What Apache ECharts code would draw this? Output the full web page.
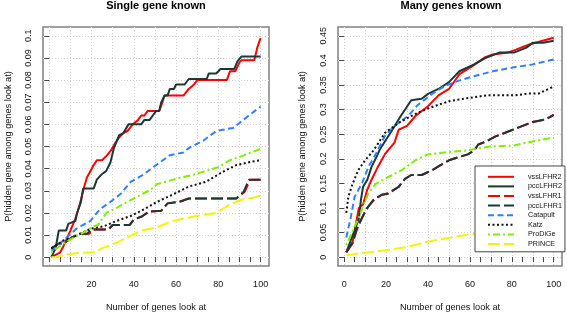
<!DOCTYPE html>
<html><head><meta charset="utf-8">
<script src="https://cdn.jsdelivr.net/npm/echarts@6/dist/echarts.min.js"></script>
<style>html,body{margin:0;padding:0;background:#fff}#c{width:567px;height:317px}</style>
</head><body><div id="c"></div>
<script>
// ---- labels ----
const seriesNames = ['vssLFHR2','pccLFHR2','vssLFHR1','pccLFHR1','Catapult','Katz','ProDiGe','PRINCE'];
const panelTitles = ['Single gene known','Many genes known'];
const xTitle = 'Number of genes look at';
const yTitle = 'P(hidden gene among genes look at)';
const xTickValues = [0,5,10,15,20,25,30,35,40,45,50,55,60,65,70,75,80,85,90,95,100];
const xGridValues = [0,10,20,30,40,50,60,70,80,90,100];
const xLabelsLeft = [20,40,60,80,100];
const xLabelsRight = [0,20,40,60,80,100];
const yTicksLeft = [0,0.01,0.02,0.03,0.04,0.05,0.06,0.07,0.08,0.09,0.1];
const yTicksRight = [0,0.05,0.1,0.15,0.2,0.25,0.3,0.35,0.4,0.45];

// ---- Single gene known: [genes looked at, probability] ----
const single_vssLFHR2 = [[1,0],[3,0.001],[5,0.002],[6.5,0.0045],[10,0.012],[12.5,0.0177],[14.5,0.024],[16.3,0.031],[17.8,0.036],[19,0.038],[21,0.0416],[22.5,0.0438],[25,0.0438],[27.3,0.046],[29,0.048],[31.5,0.052],[33,0.054],[35,0.056],[37,0.057],[39.5,0.06],[42,0.062],[43.5,0.064],[45,0.064],[46.5,0.066],[52,0.066],[53,0.0686],[54.5,0.073],[63.5,0.073],[66,0.076],[68.5,0.078],[70,0.08],[84,0.08],[85.5,0.084],[88,0.084],[90,0.088],[91,0.089],[97,0.089],[98.5,0.095],[100,0.099]];
const single_pccLFHR2 = [[1,0],[3,0.004],[4.5,0.012],[8,0.012],[9,0.015],[12.4,0.0164],[13,0.0195],[15,0.025],[16,0.031],[21,0.031],[22.5,0.035],[25,0.0376],[27,0.039],[29,0.043],[30.5,0.049],[33,0.055],[35,0.056],[37.5,0.06],[43.5,0.06],[45,0.062],[47.5,0.062],[49,0.064],[50.5,0.066],[52,0.066],[53,0.07],[54.5,0.073],[56,0.073],[57,0.076],[59,0.076],[60,0.078],[64,0.078],[66,0.0805],[74.5,0.0805],[75.5,0.083],[79,0.083],[81,0.085],[87.5,0.085],[89,0.0885],[91,0.0907],[100,0.0907]];
const single_vssLFHR1 = [[1,0.004],[4.3,0.006],[7.5,0.0066],[10,0.0084],[12.4,0.0097],[14.6,0.0106],[19,0.0106],[21,0.0125],[28,0.0125],[30,0.0145],[38,0.0145],[40,0.017],[44,0.0185],[47,0.0205],[53,0.021],[56,0.0243],[61.5,0.025],[66,0.0265],[88.5,0.0265],[92.5,0.0296],[95,0.035],[100,0.035]];
const single_pccLFHR1 = [[1,0.004],[4.3,0.006],[7.5,0.0066],[10,0.0084],[12.4,0.0097],[14.6,0.0106],[18,0.0106],[20,0.0125],[28,0.0125],[30,0.0145],[38,0.0145],[40,0.017],[44,0.0185],[47,0.0205],[53,0.021],[56,0.0243],[61.5,0.025],[66,0.0265],[88.5,0.0265],[92,0.0296],[94.5,0.035],[100,0.035]];
const single_Catapult = [[1,0.003],[3.3,0.0044],[6.6,0.0075],[12.8,0.0128],[19.5,0.0164],[24,0.0217],[29,0.025],[34,0.0288],[38.5,0.034],[45,0.0376],[50.5,0.0416],[57,0.046],[63.5,0.0473],[66.5,0.0496],[73,0.0527],[79,0.057],[87,0.0584],[90,0.0606],[94,0.0637],[100,0.068]];
const single_Katz = [[1,0.004],[6.6,0.0075],[12.8,0.0097],[19.5,0.0128],[26,0.014],[32,0.0164],[38.5,0.0186],[45,0.0217],[51,0.025],[58.5,0.0283],[66,0.0319],[74,0.034],[82,0.0385],[88.5,0.0416],[94.5,0.0429],[100,0.0438]];
const single_ProDiGe = [[1,0.002],[2,0.003],[6.6,0.006],[11.4,0.0088],[16,0.011],[21,0.014],[23,0.0145],[27,0.02],[31.4,0.022],[35,0.024],[39,0.026],[43.5,0.0283],[48,0.0305],[51,0.033],[60,0.0354],[69.5,0.0376],[80,0.0407],[85.5,0.0438],[92,0.046],[98,0.0482],[100,0.049]];
const single_PRINCE = [[1,0],[4.3,0],[6.6,0.001],[12.8,0.0018],[21,0.0022],[26,0.0044],[32,0.0066],[38.5,0.0097],[43.5,0.012],[51,0.0135],[58.5,0.0164],[69.5,0.0186],[79,0.02],[84,0.023],[90,0.0257],[97,0.027],[100,0.028]];

// ---- Many genes known ----
const many_vssLFHR2 = [[1,0.01],[4,0.03],[5,0.054],[7,0.1],[9,0.107],[11,0.137],[13,0.157],[16,0.183],[19.5,0.21],[24,0.233],[26,0.259],[30,0.267],[34,0.287],[40,0.307],[45,0.329],[50,0.342],[55,0.372],[61,0.388],[67,0.406],[71,0.412],[78,0.416],[82,0.422],[88,0.432],[93,0.438],[100,0.446]];
const many_pccLFHR2 = [[1,0.01],[4,0.044],[7,0.078],[8,0.117],[9,0.143],[11,0.157],[13,0.183],[16,0.209],[17,0.219],[23,0.259],[27,0.287],[32,0.319],[37,0.322],[40,0.332],[45,0.342],[50,0.356],[55,0.378],[62,0.392],[68,0.406],[74,0.416],[81,0.416],[87,0.426],[90,0.436],[95,0.436],[100,0.44]];
const many_vssLFHR1 = [[1,0.01],[4,0.028],[6,0.055],[8.5,0.08],[11,0.1],[14,0.115],[18,0.127],[21,0.13],[26,0.143],[29,0.159],[32,0.167],[37,0.167],[42,0.177],[46,0.187],[50,0.197],[55,0.204],[59,0.209],[62,0.217],[64,0.229],[67.6,0.235],[72,0.245],[78,0.255],[84,0.265],[90,0.275],[96,0.28],[100,0.29]];
const many_pccLFHR1 = [[1,0.01],[4,0.03],[6,0.058],[8.5,0.08],[11,0.1],[14,0.117],[18,0.127],[21,0.129],[26,0.143],[29,0.159],[32,0.167],[37,0.167],[42,0.177],[46,0.187],[50,0.197],[55,0.204],[59,0.209],[62,0.217],[64,0.229],[67.6,0.235],[72,0.245],[78,0.255],[84,0.265],[90,0.275],[96,0.28],[100,0.289]];
const many_Catapult = [[1,0.04],[3,0.078],[5,0.123],[8.5,0.15],[11.5,0.183],[16,0.217],[19.5,0.247],[24,0.267],[30.5,0.287],[35,0.309],[42,0.332],[48,0.348],[54,0.358],[62,0.368],[71,0.378],[81,0.386],[90,0.392],[100,0.402]];
const many_Katz = [[1,0.09],[2,0.123],[4,0.149],[6.7,0.177],[10,0.197],[14,0.217],[19.5,0.253],[26,0.273],[32,0.287],[37,0.297],[43,0.307],[50,0.317],[58.5,0.323],[68,0.329],[81,0.329],[89,0.333],[93,0.333],[100,0.347]];
const many_ProDiGe = [[1,0.024],[4.5,0.058],[7,0.08],[9,0.104],[11.5,0.129],[15,0.149],[21,0.163],[27.5,0.177],[34,0.197],[40,0.209],[48,0.213],[58.5,0.217],[69.5,0.225],[81,0.227],[87,0.233],[100,0.243]];
const many_PRINCE = [[1,0.004],[10,0.009],[19.5,0.014],[29,0.02],[38.5,0.03],[48,0.038],[59,0.046],[70,0.05],[85,0.054],[100,0.058]];

const panels = [
  [single_vssLFHR2, single_pccLFHR2, single_vssLFHR1, single_pccLFHR1, single_Catapult, single_Katz, single_ProDiGe, single_PRINCE],
  [many_vssLFHR2, many_pccLFHR2, many_vssLFHR1, many_pccLFHR1, many_Catapult, many_Katz, many_ProDiGe, many_PRINCE]
];

// ---- styles ----
const styles = [
  {color:'#ff0000', type:'solid'},
  {color:'#1c3836', type:'solid'},
  {color:'#ff0000', type:[12,4]},
  {color:'#1c3836', type:[12,4]},
  {color:'#2f7fff', type:[6,3.5]},
  {color:'#111111', type:[2,2.5]},
  {color:'#80ee00', type:[2,3,7,3]},
  {color:'#f5f500', type:[12,4]}
];
const FONT = '"Liberation Sans", Arial, sans-serif';
const fmt = v => String(Math.round(v*1000)/1000);

const grids = [
  {left:43, top:27, width:226, height:244},
  {left:338, top:27, width:224, height:244}
].map(g => Object.assign(g, {show:true, borderColor:'#808080', borderWidth:1.5, backgroundColor:'transparent'}));

const gridLine = {show:true, lineStyle:{color:'#d4d4d4', type:[1,2], width:1}};
const xAxes = [], yAxes = [], series = [];
[0,1].forEach(i => {
  xAxes.push({
    type:'value', gridIndex:i, min:-2.96, max:103.96, position:'bottom',
    axisLine:{show:false},
    axisTick:{show:true, length:5, customValues:xTickValues, lineStyle:{color:'#444'}},
    axisLabel:{customValues: i===0 ? xLabelsLeft : xLabelsRight, margin:14, fontSize:9, color:'#111', fontFamily:FONT},
    splitLine:{show:false},
    name:xTitle, nameLocation:'middle', nameGap:37,
    nameTextStyle:{fontSize:9.2, color:'#111', fontFamily:FONT}
  });
  xAxes.push({
    type:'value', gridIndex:i, min:-2.96, max:103.96, position:'top',
    axisLine:{show:false},
    axisTick:{show:false, customValues:xGridValues},
    axisLabel:{show:false},
    splitLine:gridLine
  });
  const yt = i===0 ? yTicksLeft : yTicksRight;
  yAxes.push({
    type:'value', gridIndex:i,
    min: i===0 ? -0.004 : -0.018, max: i===0 ? 0.104 : 0.468,
    axisLine:{show:false},
    axisTick:{show:true, length:5, customValues:yt, lineStyle:{color:'#444'}},
    axisLabel:{customValues:yt, rotate:90, margin:10, fontSize:9, color:'#111', fontFamily:FONT, formatter:fmt},
    splitLine:gridLine,
    name:yTitle, nameLocation:'middle', nameGap: i===0 ? 30 : 31, nameRotate:90,
    nameTextStyle:{fontSize:9.2, color:'#111', fontFamily:FONT}
  });
  panels[i].forEach((d, k) => {
    series.push({
      type:'line', name:seriesNames[k], xAxisIndex:i*2, yAxisIndex:i,
      data:d, symbol:'none', showSymbol:false, silent:true,
      lineStyle:{color:styles[k].color, type:styles[k].type, width:2},
      itemStyle:{color:styles[k].color}
    });
  });
});

const chart = echarts.init(document.getElementById('c'), null, {renderer:'canvas'});
chart.setOption({
  animation:false,
  backgroundColor:'#ffffff',
  textStyle:{fontFamily:FONT},
  title: panelTitles.map((t, i) => ({
    text:t, left: i===0 ? 156 : 451, top:0, textAlign:'center', padding:0,
    textStyle:{fontSize:11, fontWeight:'bold', color:'#000', fontFamily:FONT}
  })),
  grid: grids,
  xAxis: xAxes,
  yAxis: yAxes,
  legend: {
    data: seriesNames, orient:'vertical', left:475, top:166,
    itemWidth:26, itemHeight:12, itemGap:0, padding:[6,3,3,12],
    backgroundColor:'#ffffff', borderColor:'#444', borderWidth:1, borderRadius:0,
    selectedMode:false, z:10,
    itemStyle:{color:'rgba(0,0,0,0)', borderWidth:0, opacity:0},
    textStyle:{fontSize:7.2, color:'#111', fontFamily:FONT, padding:[0,0,0,9], width:35}
  },
  series: series
});
</script>
</body></html>
